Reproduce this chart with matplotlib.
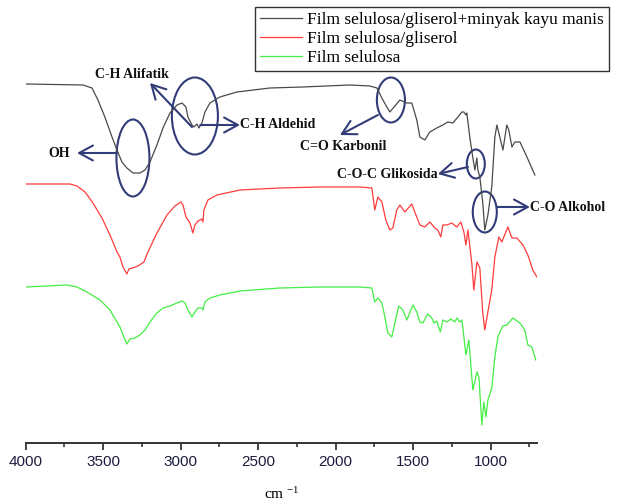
import numpy as np
import matplotlib.pyplot as plt
from matplotlib.patches import Ellipse
from matplotlib.ticker import MultipleLocator

plt.rcParams['font.family'] = ['Liberation Serif', 'DejaVu Serif']
plt.rcParams['mathtext.default'] = 'regular'

# FTIR spectra, wavenumber (cm-1) and offset transmittance (a.u.)
black_wn = [4000, 3630, 3572, 3534, 3489, 3443, 3411, 3379, 3347, 3308, 3263, 3230, 3198, 3153, 3114,
            3069, 3024, 2991, 2966, 2953, 2927, 2914, 2895, 2882, 2863, 2843, 2811, 2747, 2637, 2424,
            2211, 1908, 1779, 1733, 1695, 1650, 1617, 1585, 1540, 1508, 1476, 1456, 1424, 1392, 1347,
            1308, 1276, 1243, 1211, 1185, 1172, 1159, 1153, 1134, 1114, 1101, 1088, 1082, 1069, 1050,
            1037, 1017, 992, 972, 959, 940, 920, 895, 882, 862, 843, 810, 765, 714]
black_t = [359, 358, 355, 343, 326, 306, 293, 281, 275, 270, 270, 273, 281, 298, 315,
           330, 338, 340, 336, 326, 318, 316, 319, 315, 320, 331, 340, 346, 351, 355,
           356, 358, 357, 355, 343, 331, 337, 343, 340, 340, 323, 306, 303, 311, 315,
           318, 321, 320, 326, 331, 331, 328, 330, 306, 285, 273, 285, 273, 266, 240,
           213, 228, 256, 306, 318, 306, 293, 318, 313, 296, 301, 301, 286, 268]

red_wn = [4000, 3714, 3669, 3617, 3566, 3508, 3456, 3411, 3392, 3372, 3347, 3334, 3308, 3276, 3237,
          3211, 3153, 3088, 3037, 2998, 2985, 2966, 2940, 2921, 2908, 2888, 2863, 2856, 2850, 2824,
          2766, 2617, 2360, 2101, 1843, 1766, 1747, 1727, 1701, 1676, 1650, 1630, 1605, 1585, 1553,
          1508, 1489, 1456, 1424, 1392, 1359, 1340, 1321, 1308, 1282, 1250, 1218, 1192, 1172, 1159,
          1146, 1121, 1108, 1088, 1069, 1050, 1037, 1017, 992, 972, 946, 927, 888, 862, 830,
          791, 759, 727, 701]
red_t = [259, 259, 257, 251, 240, 225, 208, 191, 186, 176, 169, 174, 175, 177, 181,
         191, 210, 228, 237, 241, 238, 226, 220, 210, 218, 222, 224, 221, 233, 243,
         248, 253, 255, 256, 256, 255, 233, 246, 241, 223, 213, 215, 233, 238, 231,
         239, 231, 218, 216, 221, 215, 213, 206, 218, 218, 220, 216, 221, 211, 198,
         213, 180, 153, 181, 175, 130, 113, 131, 153, 186, 206, 201, 216, 205, 205,
         198, 188, 173, 166]

green_wn = [4000, 3734, 3669, 3605, 3521, 3456, 3411, 3392, 3372, 3347, 3327, 3295, 3263, 3230, 3198,
            3153, 3114, 3069, 3024, 2991, 2972, 2953, 2927, 2908, 2888, 2863, 2856, 2843, 2811, 2747,
            2617, 2360, 2101, 1843, 1766, 1747, 1727, 1701, 1682, 1663, 1637, 1618, 1592, 1566, 1540,
            1501, 1476, 1456, 1437, 1405, 1379, 1366, 1347, 1324, 1308, 1282, 1256, 1230, 1217, 1198,
            1185, 1179, 1159, 1140, 1114, 1088, 1075, 1056, 1043, 1030, 1017, 992, 972, 953, 921,
            895, 856, 811, 779, 759, 734, 708]
green_t = [156, 158, 156, 151, 143, 133, 121, 116, 108, 99, 104, 105, 108, 113, 121,
           130, 135, 137, 140, 142, 140, 133, 126, 131, 135, 135, 133, 141, 145, 148,
           152, 155, 156, 156, 155, 141, 145, 140, 126, 110, 106, 120, 137, 133, 123,
           138, 131, 121, 120, 129, 125, 120, 122, 111, 123, 121, 124, 121, 125, 121,
           123, 116, 88, 103, 53, 71, 66, 18, 41, 26, 43, 55, 86, 106, 117,
           118, 125, 120, 113, 98, 96, 83]

series_labels = ['Film selulosa/gliserol+minyak kayu manis', 'Film selulosa/gliserol', 'Film selulosa']

# band assignments: label, oval (wn, T, w, h), arrow (tail -> head), text anchor
band_labels = ['OH', 'C-H Alifatik', 'C-H Aldehid', 'C=O Karbonil', 'C-O-C Glikosida', 'C-O Alkohol']
ovals = [(3308, 285, 213, 77), (2908, 327, 297, 77), None, (1643, 343, 181, 45),
         (1095, 279, 116, 29), (1037, 231, 155, 41)]
arrows = [((3411, 290), (3669, 290)), ((2927, 316), (3198, 360)), ((2874, 318), (2617, 318)),
          ((1727, 328), (1972, 308)), ((1146, 276), (1340, 269)), ((959, 236), (746, 236))]
text_pos = [(3714, 289, 'right'), (3314, 368, 'center'), (2617, 318, 'left'),
            (1952, 296, 'center'), (1340, 268, 'right'), (746, 235, 'left')]

navy = '#323c78'

fig = plt.figure(figsize=(6.24, 5.01), dpi=100)
ax = fig.add_axes([0.0412, 0.1158, 0.8194, 0.8842])

l1, = ax.plot(black_wn, black_t, color='#4a4a4a', lw=0.9)
l2, = ax.plot(red_wn, red_t, color='#ff3c3c', lw=0.9)
l3, = ax.plot(green_wn, green_t, color='#44ee44', lw=0.9)

for lab, ov, (tail, head), (tx, ty, ha) in zip(band_labels, ovals, arrows, text_pos):
    if ov is not None:
        ax.add_patch(Ellipse((ov[0], ov[1]), ov[2], ov[3], fill=False, ec=navy, lw=1.5))
    ax.annotate('', xy=head, xytext=tail,
                arrowprops=dict(arrowstyle='->,head_length=0.55,head_width=0.3', color=navy,
                                lw=1.5, mutation_scale=18, shrinkA=0, shrinkB=0))
    ax.text(tx, ty, lab, ha=ha, va='center', fontsize=10, fontweight='bold', color='#111111')

ax.set_xlim(4000, 700)
ax.set_ylim(0, 443)
ax.set_xticks(np.arange(1000, 4001, 500))
ax.xaxis.set_minor_locator(MultipleLocator(250))
ax.set_yticks([])
for s in ['left', 'right', 'top']:
    ax.spines[s].set_visible(False)
ax.spines['bottom'].set_color('#333333')
ax.spines['bottom'].set_linewidth(1.4)
ax.tick_params(axis='x', which='major', length=5, width=1.3, color='#333333',
               labelsize=11, labelcolor='#1c1c3c', pad=4)
ax.tick_params(axis='x', which='minor', length=3, width=1.2, color='#333333')
for t in ax.get_xticklabels():
    t.set_family(['Liberation Sans', 'DejaVu Sans'])
ax.set_xlabel('cm $^{-1}$', fontsize=11, labelpad=12)

leg = ax.legend([l1, l2, l3], series_labels, loc='upper right',
                bbox_to_anchor=(609 / 624, 494 / 501), bbox_transform=fig.transFigure,
                fancybox=False, edgecolor='#333333', framealpha=1, fontsize=12.5,
                handlelength=2.4, handletextpad=0.3, labelspacing=0.15,
                borderpad=0.3, borderaxespad=0)
leg.get_frame().set_linewidth(1.0)

fig.savefig('out.png', dpi=100)
